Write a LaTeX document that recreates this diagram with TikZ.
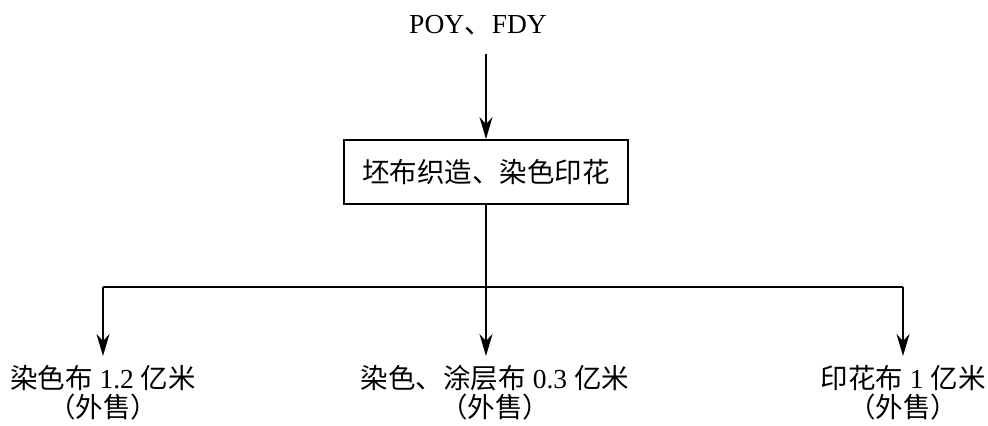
\documentclass[tikz,border=0pt]{standalone}
\usepackage{fontspec}
\setmainfont{Liberation Serif}
\newfontfamily\cjk{Noto Sans CJK SC}
\usetikzlibrary{arrows.meta}
\tikzset{
	pfeil/.style={-{Stealth[length=11pt,width=6.5pt,inset=3.5pt]}},
	kasten/.style={draw, minimum width=142pt, minimum height=32pt, inner sep=0pt},
	ausgang/.style={anchor=north, align=center, inner sep=4pt, font=\fontsize{13.75}{14.5}\selectfont}
}
\begin{document}
\begin{tikzpicture}[x=0.5pt, y=0.5pt, line width=0.9pt, font=\fontsize{13.75}{14}\selectfont]
	\useasboundingbox (0,0) rectangle (988,425);
	% Eingang
	\node (src) at (478,400) {POY{\cjk 、}FDY};
	\node[kasten] (proc) at (486,253) {{\cjk 坯布织造、染色印花}};
	% Ausgaenge
	\node[ausgang] (out1) at (103,69) {{\cjk 染色布} 1.2 {\cjk 亿米}\\{\cjk （外售）}};
	\node[ausgang] (out2) at (495,69) {{\cjk 染色、涂层布} 0.3 {\cjk 亿米}\\{\cjk （外售）}};
	\node[ausgang] (out3) at (903,69) {{\cjk 印花布} 1 {\cjk 亿米}\\{\cjk （外售）}};
	\coordinate (bus) at (486,138);
	% Verbindungen
	\draw [pfeil] ([yshift=-6]src.south -| proc.north) -- (proc.north);
	\draw [pfeil] (proc.south) -- (proc.south |- out2.north);
	\draw (bus -| out1.north) -- (bus -| out3.north);
	\draw [pfeil] (bus -| out1.north) -- (out1.north);
	\draw [pfeil] (bus -| out3.north) -- (out3.north);
\end{tikzpicture}
\end{document}
